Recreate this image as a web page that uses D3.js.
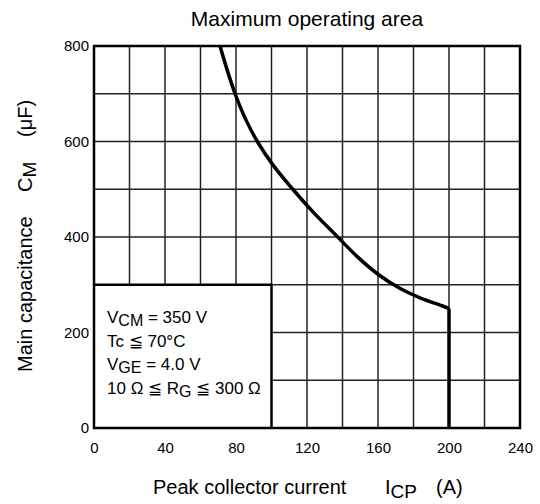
<!DOCTYPE html>
<html>
<head>
<meta charset="utf-8">
<script src="https://cdn.jsdelivr.net/npm/d3@7"></script>
<style>
  body { margin: 0; background: #fff; }
  text { font-family: "Liberation Sans", Arial, sans-serif; fill: #000; }
</style>
</head>
<body>
<svg id="chart" width="540" height="504"></svg>
<script>
//Datos (corriente en A, capacidad en uF)
const corriente = [71, 75, 79.5, 85, 92, 101, 112, 124, 136, 148, 160, 172, 184, 196, 200, 200];
const capacidad = [800, 750, 700, 650, 600, 550, 500, 450, 405, 360, 322, 293, 272, 256, 250, 0];

const ticksX = [0, 40, 80, 120, 160, 200, 240];
const ticksY = [0, 200, 400, 600, 800];
const rejillaX = [20, 40, 60, 80, 100, 120, 140, 160, 180, 200, 220];
const rejillaY = [100, 200, 300, 400, 500, 600, 700];

//Zona de condiciones (abajo a la izquierda)
const cajaX = 100;
const cajaY = 300;
const condiciones = [
  [['V', ''], ['CM', 'sub'], [' = 350 V', '']],
  [['Tc  \u2266 70°C', '']],
  [['V', ''], ['GE', 'sub'], [' = 4.0 V', '']],
  [['10 \u03A9 \u2266 R', ''], ['G', 'sub'], [' \u2266 300 \u03A9', '']]
];

const svg = d3.select('#chart');

const x = d3.scaleLinear().domain([0, 240]).range([94, 520]);
const y = d3.scaleLinear().domain([0, 800]).range([428, 46]);

// Rejilla vertical (fuera de la caja)
svg.selectAll('.gx')
  .data(rejillaX)
  .enter()
  .append('line')
  .attr('x1', d => x(d))
  .attr('x2', d => x(d))
  .attr('y1', d => d <= cajaX ? y(cajaY) : y(0))
  .attr('y2', y(800))
  .attr('stroke', '#222')
  .attr('stroke-width', 1.5);

// Rejilla horizontal
svg.selectAll('.gy')
  .data(rejillaY)
  .enter()
  .append('line')
  .attr('x1', d => d < cajaY ? x(cajaX) : x(0))
  .attr('x2', x(240))
  .attr('y1', d => y(d))
  .attr('y2', d => y(d))
  .attr('stroke', '#222')
  .attr('stroke-width', 1.5);

// Borde de la caja
svg.append('path')
  .attr('d', `M${x(0)},${y(cajaY)}H${x(cajaX)}V${y(0)}`)
  .attr('fill', 'none')
  .attr('stroke', '#000')
  .attr('stroke-width', 2.5);

// Marco del gráfico
svg.append('rect')
  .attr('x', x(0))
  .attr('y', y(800))
  .attr('width', x(240) - x(0))
  .attr('height', y(0) - y(800))
  .attr('fill', 'none')
  .attr('stroke', '#000')
  .attr('stroke-width', 2.5);

// Ejes
const ejeX = svg.append('g')
  .attr('transform', `translate(0,${y(0)})`)
  .call(d3.axisBottom(x).tickValues(ticksX).tickSize(0).tickPadding(14));
const ejeY = svg.append('g')
  .attr('transform', `translate(${x(0)},0)`)
  .call(d3.axisLeft(y).tickValues(ticksY).tickSize(0).tickPadding(5));
[ejeX, ejeY].forEach(g => {
  g.select('.domain').remove();
  g.selectAll('text').style('font-size', '15px').style('font-family', '"Liberation Sans", Arial, sans-serif');
});

// Curva del área de operación
const puntos = corriente.map((c, i) => [c, capacidad[i]]);
const linea = d3.line()
  .x(d => x(d[0]))
  .y(d => y(d[1]));

svg.append('path')
  .datum(puntos.slice(0, -1))
  .attr('d', linea.curve(d3.curveCatmullRom))
  .attr('fill', 'none')
  .attr('stroke', '#000')
  .attr('stroke-width', 3.5);

svg.append('path')
  .datum(puntos.slice(-2))
  .attr('d', d3.line().x(d => x(d[0])).y(d => y(d[1])))
  .attr('fill', 'none')
  .attr('stroke', '#000')
  .attr('stroke-width', 3.5);

// Texto de condiciones
condiciones.forEach((trozos, i) => {
  const t = svg.append('text')
    .attr('x', 107)
    .attr('y', 323 + i * 23.5)
    .style('font-size', '17px');
  trozos.forEach(([s, tipo]) => {
    const ts = t.append('tspan').text(s);
    if (tipo === 'sub') {
      ts.attr('dy', 3).style('font-size', '16px');
    } else if (t.selectAll('tspan').size() > 1) {
      ts.attr('dy', -3);
    }
  });
});

// Título
svg.append('text')
  .attr('x', (x(0) + x(240)) / 2)
  .attr('y', 26)
  .attr('text-anchor', 'middle')
  .style('font-size', '21px')
  .text('Maximum operating area');

// Título eje X
const tx = svg.append('text')
  .attr('x', 153)
  .attr('y', 494)
  .style('font-size', '20px');
tx.append('tspan').text('Peak collector current');
tx.append('tspan').attr('x', 385).text('I');
tx.append('tspan').attr('dy', 4).style('font-size', '19px').text('CP');
tx.append('tspan').attr('x', 436).attr('dy', -4).text('(A)');

// Título eje Y
const ty = svg.append('text')
  .attr('transform', 'translate(32,372) rotate(-90)')
  .style('font-size', '20px');
ty.append('tspan').text('Main capacitance');
ty.append('tspan').attr('x', 180).text('C');
ty.append('tspan').attr('dy', 4).style('font-size', '19px').text('M');
ty.append('tspan').attr('x', 235).attr('dy', -4).text('(\u03BCF)');
</script>
</body>
</html>
